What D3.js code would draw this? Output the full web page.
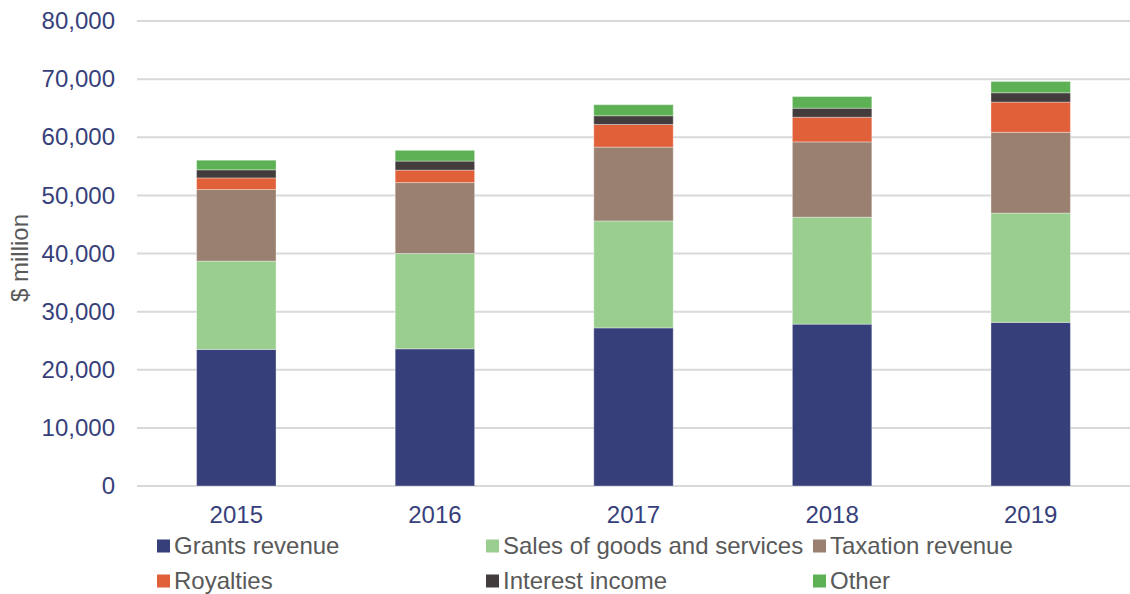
<!DOCTYPE html>
<html>
<head>
<meta charset="utf-8">
<script src="https://cdn.jsdelivr.net/npm/d3@7"></script>
<style>
  html, body { margin: 0; padding: 0; background: #fff; }
  svg { display: block; font-family: "Liberation Sans", Arial, sans-serif; }
</style>
</head>
<body>
<svg id="chart" width="1130" height="594"></svg>
<script>
// Revenue by source, $ million
const years = ["2015", "2016", "2017", "2018", "2019"];
const seriesNames = ["Grants revenue", "Sales of goods and services", "Taxation revenue", "Royalties", "Interest income", "Other"];
const grants    = [23500, 23600, 27200, 27850, 28150];
const sales     = [15200, 16400, 18400, 18400, 18800];
const taxation  = [12300, 12200, 12700, 12950, 13900];
const royalties = [2000, 2150, 3900, 4250, 5200];
const interest  = [1400, 1550, 1500, 1550, 1600];
const other     = [1650, 1850, 1900, 2000, 1950];
const yTicks = [0, 10000, 20000, 30000, 40000, 50000, 60000, 70000, 80000];

const colors = ["#373f7b", "#99ce8f", "#9a8070", "#e0603a", "#433c3c", "#5db154"];
const seriesValues = [grants, sales, taxation, royalties, interest, other];

const rows = years.map((yr, i) => {
  const r = { year: yr };
  seriesNames.forEach((s, k) => r[s] = seriesValues[k][i]);
  return r;
});
const stacked = d3.stack().keys(seriesNames)(rows);

const svg = d3.select("#chart");
const plotLeft = 137, plotRight = 1130, plotTop = 21, plotBottom = 486;

const x = d3.scaleBand().domain(years).range([plotLeft, plotRight]).paddingInner(0.6).paddingOuter(0.3);
const y = d3.scaleLinear().domain([0, 80000]).range([plotBottom, plotTop]);

// gridlines
svg.append("g")
  .selectAll("line").data(yTicks).join("line")
  .attr("x1", plotLeft).attr("x2", plotRight)
  .attr("y1", d => y(d)).attr("y2", d => y(d))
  .attr("stroke", "#d9d9d9").attr("stroke-width", 2);

// y axis labels
const yAxis = d3.axisLeft(y).tickValues(yTicks).tickFormat(d3.format(",")).tickSize(0).tickPadding(22);
const gy = svg.append("g").attr("transform", `translate(${plotLeft},0)`).call(yAxis);
gy.select(".domain").remove();
gy.selectAll("text").attr("fill", "#373f7b").style("font-size", "24px")
  .style("font-family", "'Liberation Sans', Arial, sans-serif");

// x axis labels
const xAxis = d3.axisBottom(x).tickSize(0).tickPadding(20);
const gx = svg.append("g").attr("transform", `translate(0,${plotBottom})`).call(xAxis);
gx.select(".domain").remove();
gx.selectAll("text").attr("fill", "#373f7b").style("font-size", "24px")
  .style("font-family", "'Liberation Sans', Arial, sans-serif");

// stacked bars
svg.append("g")
  .selectAll("g").data(stacked).join("g")
  .attr("fill", (d, i) => colors[i])
  .selectAll("rect").data(d => d).join("rect")
  .attr("x", d => x(d.data.year))
  .attr("width", x.bandwidth())
  .attr("y", d => y(d[1]))
  .attr("height", d => y(d[0]) - y(d[1]))
  .attr("stroke", "rgba(255,255,255,0.35)").attr("stroke-width", 1);

// y axis title
svg.append("text")
  .attr("transform", "translate(28,258) rotate(-90)")
  .attr("text-anchor", "middle")
  .attr("fill", "#595959")
  .style("font-size", "24px")
  .text("$ million");

// legend
const legendPos = [[157, 546], [486, 546], [813, 546], [157, 581], [486, 581], [813, 581]];
const lg = svg.append("g").selectAll("g").data(seriesNames).join("g")
  .attr("transform", (d, i) => `translate(${legendPos[i][0]},${legendPos[i][1]})`);
lg.append("rect").attr("x", 0).attr("y", -6.5).attr("width", 13).attr("height", 13)
  .attr("fill", (d, i) => colors[i]);
lg.append("text").attr("x", 17).attr("y", 0).attr("dy", "0.35em")
  .attr("fill", "#595959").style("font-size", "24px")
  .text(d => d);
</script>
</body>
</html>
